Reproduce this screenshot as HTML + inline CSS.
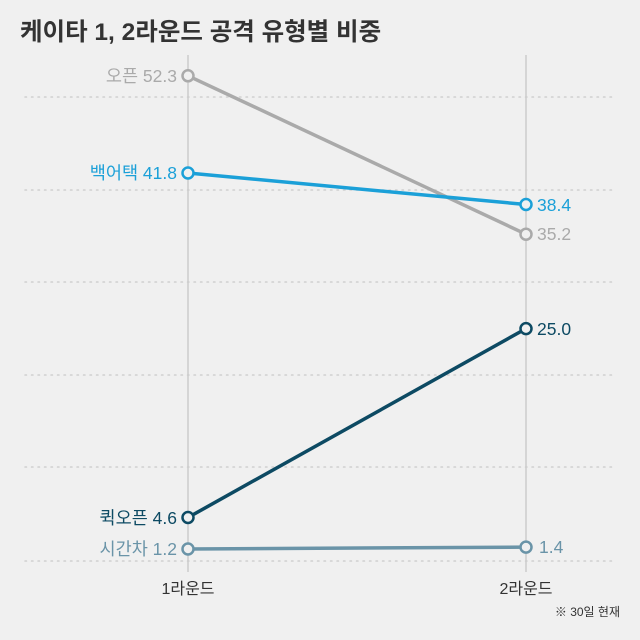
<!DOCTYPE html>
<html><head><meta charset="utf-8"><style>
body{margin:0;background:#f0f0f0;}
svg{display:block;font-family:"Liberation Sans","Noto Sans CJK KR",sans-serif;}
</style></head><body>
<svg width="640" height="640" viewBox="0 0 640 640" xmlns="http://www.w3.org/2000/svg">
<rect width="640" height="640" fill="#f0f0f0"/>
<text x="20" y="40" font-size="24.5" font-weight="bold" fill="#333">케이타 1, 2라운드 공격 유형별 비중</text>
<g stroke="#cfcfcf" stroke-width="1.5" stroke-dasharray="1.5 5" stroke-linecap="round">
<line x1="25" x2="615" y1="97" y2="97"/>
<line x1="25" x2="615" y1="190" y2="190"/>
<line x1="25" x2="615" y1="282" y2="282"/>
<line x1="25" x2="615" y1="375" y2="375"/>
<line x1="25" x2="615" y1="467" y2="467"/>
<line x1="25" x2="615" y1="561" y2="561"/>
</g>
<line x1="188" x2="188" y1="55" y2="572" stroke="#ccc" stroke-width="1.5"/>
<line x1="526" x2="526" y1="55" y2="572" stroke="#ccc" stroke-width="1.5"/>
<g stroke-width="3.5" fill="none">
<line x1="188" y1="75.8" x2="526" y2="234.2" stroke="#aaaaaa"/>
<line x1="188" y1="173" x2="526" y2="204.5" stroke="#1ba0d8"/>
<line x1="188" y1="517.5" x2="526" y2="328.6" stroke="#0d4a63"/>
<line x1="188" y1="549" x2="526" y2="547.1" stroke="#6a94a8"/>
</g>
<g fill="#f0f0f0" stroke-width="2.5">
<circle cx="188" cy="75.8" r="5.5" stroke="#aaaaaa"/>
<circle cx="526" cy="234.2" r="5.5" stroke="#aaaaaa"/>
<circle cx="188" cy="173" r="5.5" stroke="#1ba0d8"/>
<circle cx="526" cy="204.5" r="5.5" stroke="#1ba0d8"/>
<circle cx="188" cy="517.5" r="5.5" stroke="#0d4a63"/>
<circle cx="526" cy="328.6" r="5.5" stroke="#0d4a63"/>
<circle cx="188" cy="549" r="5.5" stroke="#6a94a8"/>
<circle cx="526" cy="547.1" r="5.5" stroke="#6a94a8"/>
</g>
<g font-size="17.5" text-anchor="end">
<text x="177" y="82" fill="#aaaaaa">오픈 52.3</text>
<text x="177" y="179" fill="#1ba0d8">백어택 41.8</text>
<text x="177" y="524" fill="#0d4a63">퀵오픈 4.6</text>
<text x="177" y="555" fill="#6a94a8">시간차 1.2</text>
</g>
<g font-size="17.5">
<text x="537" y="240" fill="#aaaaaa">35.2</text>
<text x="537" y="211" fill="#1ba0d8">38.4</text>
<text x="537" y="335" fill="#0d4a63">25.0</text>
<text x="539" y="553" fill="#6a94a8">1.4</text>
</g>
<g font-size="16" fill="#333" text-anchor="middle">
<text x="188" y="594">1라운드</text>
<text x="526" y="594">2라운드</text>
</g>
<text x="620" y="616" font-size="12" fill="#333" text-anchor="end">※ 30일 현재</text>
</svg>
</body></html>
